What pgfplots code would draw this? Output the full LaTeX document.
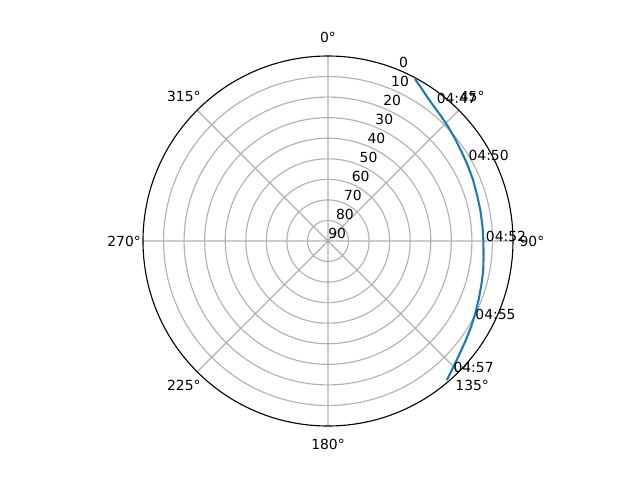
\documentclass[border=0pt]{standalone}
\usepackage{fontspec}
\setmainfont{DejaVu Sans}
\usepackage{pgfplots}
\usepackage{pgfplotstable}
\usepgfplotslibrary{polar}
\pgfplotsset{compat=1.18}

\definecolor{c0}{HTML}{1F77B4}
\definecolor{gridgray}{HTML}{B0B0B0}

% satellite pass: azimuth (deg, clockwise from north) and elevation (deg)
\pgfplotstableread{
az    el
28.2  0.5
31.0  2.6
34.0  4.6
38.0  6.6
42.0  8.0
46.0  9.2
51.0  10.6
56.0  11.8
61.0  12.6
67.0  13.4
73.0  14.1
79.0  14.4
85.0  14.5
90.0  14.4
96.0  13.9
101.0 13.1
106.0 12.4
111.0 11.4
116.0 10.2
121.0 8.8
126.0 7.3
131.0 5.5
135.0 3.6
139.5 1.0
}\pass

\begin{document}
\fontsize{10}{12}\selectfont
\begin{tikzpicture}
\useasboundingbox (-236.16pt,173.52pt) rectangle (224.64pt,-172.08pt);
\begin{polaraxis}[
    at={(0,0)}, anchor=center,
    scale only axis,
    width=266.4pt, height=266.4pt,
    xmin=0, xmax=360, ymin=0, ymax=90,
    xtick={0,45,...,315}, xticklabels={},
    ytick={10,20,...,80}, yticklabels={},
    major tick length=0pt,
    xmajorgrids, ymajorgrids,
    grid style={color=gridgray, line width=0.8pt},
    separate axis lines,
    x axis line style={black, line width=0.8pt},
    y axis line style={draw=none},
    clip=false,
]
\addplot[color=c0, line width=1.5pt, no markers]
    table[x expr=90-\thisrow{az}, y expr=90-\thisrow{el}] {\pass};

% compass labels
\node at (axis cs:90,99.2)   {0°};
\node at (axis cs:45,99.2)   {45°};
\node at (axis cs:0,99.2)    {90°};
\node at (axis cs:-45,99.2)  {135°};
\node at (axis cs:-90,99.2)  {180°};
\node at (axis cs:-135,99.2) {225°};
\node at (axis cs:180,99.2)  {270°};
\node at (axis cs:135,99.2)  {315°};

% elevation labels
\begin{scope}[every node/.style={anchor=south west, inner sep=0pt, yshift=1.2pt}]
\node at (axis cs:67.5,90) {0};
\node at (axis cs:67.5,80) {10};
\node at (axis cs:67.5,70) {20};
\node at (axis cs:67.5,60) {30};
\node at (axis cs:67.5,50) {40};
\node at (axis cs:67.5,40) {50};
\node at (axis cs:67.5,30) {60};
\node at (axis cs:67.5,20) {70};
\node at (axis cs:67.5,10) {80};
\node at (axis cs:67.5,0)  {90};
\end{scope}

% time labels
\begin{scope}[every node/.style={anchor=base west, inner sep=0pt}]
\node at (axis cs:51.7,85.2) {04:47};
\node at (axis cs:29.7,78.6) {04:50};
\node at (axis cs:-0.3,76.7) {04:52};
\node at (axis cs:-28.0,81.1) {04:55};
\node at (axis cs:-46.4,88.4) {04:57};
\end{scope}
\end{polaraxis}
\end{tikzpicture}
\end{document}
